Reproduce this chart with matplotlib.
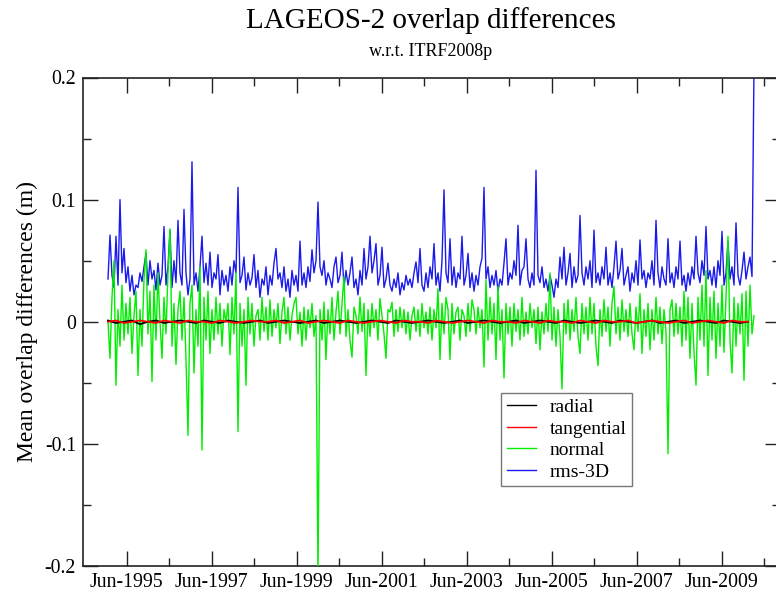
import numpy as np
import matplotlib.pyplot as plt
from matplotlib.ticker import FixedLocator, FuncFormatter

plt.rcParams['font.family'] = ['Liberation Serif', 'DejaVu Serif']

# sampling of the overlap arcs (decimal years)
start_year = 1994.98
step_year = 0.04706

# rms-3D (m)
rms_3d = [
    0.035, 0.071, 0.038, 0.028, 0.070, 0.030, 0.100, 0.040, 0.060, 0.032,
    0.045, 0.025, 0.038, 0.022, 0.030, 0.028, 0.040, 0.033, 0.045, 0.056,
    0.030, 0.050, 0.035, 0.042, 0.026, 0.048, 0.030, 0.038, 0.078, 0.030,
    0.045, 0.075, 0.028, 0.050, 0.032, 0.083, 0.040, 0.030, 0.092, 0.040,
    0.022, 0.035, 0.131, 0.030, 0.040, 0.025, 0.045, 0.070, 0.032, 0.048,
    0.030, 0.057, 0.028, 0.040, 0.035, 0.055, 0.022, 0.042, 0.030, 0.038,
    0.025, 0.045, 0.030, 0.050, 0.040, 0.110, 0.032, 0.038, 0.053, 0.026,
    0.040, 0.030, 0.036, 0.055, 0.028, 0.042, 0.020, 0.035, 0.030, 0.045,
    0.022, 0.038, 0.030, 0.048, 0.060, 0.035, 0.040, 0.028, 0.045, 0.025,
    0.035, 0.020, 0.042, 0.030, 0.038, 0.025, 0.066, 0.030, 0.040, 0.028,
    0.045, 0.033, 0.059, 0.040, 0.050, 0.098, 0.045, 0.038, 0.050, 0.030,
    0.040, 0.035, 0.028, 0.045, 0.053, 0.032, 0.038, 0.057, 0.028, 0.042,
    0.030, 0.040, 0.053, 0.028, 0.035, 0.022, 0.042, 0.030, 0.060, 0.035,
    0.045, 0.070, 0.040, 0.050, 0.064, 0.030, 0.038, 0.061, 0.028, 0.035,
    0.048, 0.030, 0.025, 0.035, 0.028, 0.040, 0.022, 0.032, 0.026, 0.038,
    0.030, 0.035, 0.028, 0.040, 0.049, 0.032, 0.060, 0.030, 0.025, 0.040,
    0.028, 0.045, 0.035, 0.064, 0.030, 0.040, 0.025, 0.050, 0.108, 0.040,
    0.032, 0.068, 0.030, 0.045, 0.028, 0.040, 0.035, 0.070, 0.030, 0.038,
    0.056, 0.028, 0.040, 0.025, 0.038, 0.030, 0.045, 0.052, 0.110, 0.035,
    0.045, 0.028, 0.038, 0.030, 0.042, 0.025, 0.035, 0.030, 0.048, 0.068,
    0.030, 0.040, 0.035, 0.050, 0.038, 0.079, 0.030, 0.042, 0.045, 0.068,
    0.035, 0.028, 0.040, 0.030, 0.124, 0.038, 0.032, 0.045, 0.028, 0.035,
    0.025, 0.038, 0.030, 0.020, 0.035, 0.028, 0.053, 0.035, 0.061, 0.030,
    0.040, 0.056, 0.028, 0.045, 0.032, 0.038, 0.087, 0.040, 0.030, 0.045,
    0.035, 0.050, 0.028, 0.075, 0.032, 0.040, 0.030, 0.045, 0.035, 0.061,
    0.030, 0.040, 0.028, 0.045, 0.066, 0.035, 0.042, 0.060, 0.030, 0.038,
    0.045, 0.025, 0.040, 0.032, 0.050, 0.030, 0.067, 0.035, 0.042, 0.028,
    0.040, 0.035, 0.050, 0.030, 0.083, 0.040, 0.028, 0.045, 0.035, 0.030,
    0.068, 0.032, 0.040, 0.028, 0.045, 0.035, 0.066, 0.030, 0.038, 0.025,
    0.040, 0.030, 0.045, 0.035, 0.070, 0.040, 0.032, 0.050, 0.038, 0.078,
    0.035, 0.042, 0.030, 0.045, 0.028, 0.050, 0.038, 0.074, 0.030, 0.040,
    0.066, 0.035, 0.045, 0.030, 0.081, 0.038, 0.030, 0.042, 0.057, 0.035,
    0.045, 0.053, 0.037, 0.210,
]

# normal component (m)
normal = [
    0.000, -0.030, 0.020, 0.050, -0.052, 0.010, -0.020, 0.030, -0.015, 0.015,
    -0.010, 0.020, -0.026, 0.005, 0.025, -0.044, 0.010, -0.020, 0.035, 0.059,
    -0.010, 0.025, -0.049, 0.030, -0.015, 0.040, 0.000, -0.030, 0.020, -0.010,
    0.040, 0.076, -0.020, 0.015, -0.035, 0.010, 0.025, -0.015, 0.020, -0.030,
    -0.093, 0.015, 0.030, -0.042, 0.010, -0.020, 0.045, -0.105, 0.020, -0.015,
    0.025, -0.026, 0.010, -0.015, 0.020, -0.010, 0.015, -0.020, 0.010, 0.000,
    0.015, -0.027, 0.020, -0.010, 0.040, -0.090, 0.015, -0.020, 0.010, -0.052,
    0.020, -0.010, 0.015, -0.020, 0.005, 0.010, -0.015, 0.020, -0.008, 0.012,
    -0.015, 0.018, -0.012, 0.010, -0.005, 0.015, -0.018, 0.008, 0.020, -0.010,
    0.012, -0.015, 0.005, 0.015, 0.020, -0.010, 0.008, -0.020, 0.012, -0.015,
    0.010, -0.005, 0.015, -0.012, 0.005, -0.210, 0.010, -0.015, 0.016, -0.031,
    0.010, -0.010, 0.020, -0.015, 0.008, 0.025, -0.010, 0.015, 0.037, -0.012,
    0.010, -0.015, -0.029, 0.012, 0.005, -0.010, 0.020, -0.008, 0.015, -0.044,
    0.010, -0.012, 0.015, -0.005, 0.010, -0.015, 0.019, 0.005, -0.010, -0.030,
    0.010, 0.008, 0.016, -0.012, 0.010, -0.008, 0.012, -0.005, 0.010, -0.010,
    0.008, -0.015, 0.005, 0.012, -0.008, 0.010, -0.012, 0.015, -0.005, 0.008,
    -0.010, 0.012, -0.015, 0.010, -0.005, 0.027, -0.031, 0.015, -0.010, 0.020,
    0.010, -0.031, 0.015, -0.010, 0.008, 0.012, -0.015, 0.010, 0.005, -0.012,
    0.015, -0.008, 0.018, 0.010, -0.010, 0.012, -0.005, 0.010, -0.037, 0.034,
    -0.015, 0.020, -0.010, 0.015, -0.031, 0.029, -0.015, 0.010, -0.046, 0.015,
    -0.010, 0.012, -0.020, 0.015, -0.008, 0.010, -0.015, 0.020, -0.012, 0.008,
    -0.010, 0.015, -0.005, 0.010, -0.018, 0.012, -0.023, 0.008, -0.010, 0.015,
    -0.008, 0.040, -0.015, 0.012, -0.020, 0.010, -0.012, -0.055, 0.015, -0.010,
    0.018, -0.015, 0.010, -0.008, 0.020, -0.012, -0.026, 0.015, -0.010, 0.012,
    -0.015, 0.020, -0.010, 0.015, -0.020, -0.036, 0.010, -0.012, 0.018, -0.008,
    0.012, -0.020, 0.015, 0.029, -0.010, 0.012, -0.015, 0.018, -0.008, 0.010,
    -0.012, 0.015, -0.010, -0.023, 0.012, -0.008, 0.023, -0.026, 0.010, -0.012,
    0.015, -0.023, 0.010, -0.015, 0.020, -0.010, 0.012, -0.018, 0.010, -0.008,
    -0.108, 0.010, 0.018, -0.012, 0.015, -0.010, 0.012, -0.020, 0.025, -0.015,
    0.020, -0.030, 0.015, -0.025, -0.052, 0.020, -0.015, 0.030, -0.020, 0.042,
    -0.044, 0.020, -0.015, 0.025, -0.030, 0.015, -0.020, 0.030, -0.025, 0.020,
    0.070, -0.015, -0.042, 0.020, -0.020, 0.015, -0.010, 0.023, -0.048, 0.025,
    -0.020, 0.030, -0.010, 0.005,
]

# radial and tangential (m), every 4th arc
radial = [
    0.001, -0.001, 0.000, 0.001, -0.002, 0.000, 0.001, -0.001, 0.000, 0.001,
    0.000, -0.001, 0.001, 0.000, -0.001, 0.001, 0.000, -0.001, 0.000, 0.001,
    -0.001, 0.000, 0.001, 0.000, -0.001, 0.000, 0.001, -0.001, 0.000, 0.001,
    0.000, -0.001, 0.000, 0.001, 0.000, -0.001, 0.001, 0.000, -0.001, 0.000,
    0.001, 0.000, -0.001, 0.000, 0.001, -0.001, 0.000, 0.001, 0.000, -0.001,
    0.000, 0.001, -0.001, 0.000, 0.001, 0.000, -0.001, 0.001, 0.000, -0.001,
    0.000, 0.001, 0.000, -0.001, 0.001, 0.000, -0.001, 0.000, 0.001, -0.001,
    0.000, 0.001, -0.001, 0.000, 0.001, 0.000, -0.001, 0.001, 0.000, -0.001,
    0.000,
]
tangential = [
    0.000, 0.001, -0.001, 0.000, 0.001, 0.000, -0.001, 0.001, 0.000, -0.001,
    0.001, 0.000, 0.000, -0.001, 0.001, 0.000, -0.001, 0.000, 0.001, 0.000,
    0.000, 0.001, -0.001, 0.000, 0.001, -0.001, 0.000, 0.001, 0.000, -0.001,
    0.001, 0.000, -0.001, 0.000, 0.001, 0.000, -0.001, 0.001, 0.000, 0.000,
    -0.001, 0.001, 0.000, -0.001, 0.000, 0.001, 0.000, -0.001, 0.001, 0.000,
    0.000, -0.001, 0.001, 0.000, -0.001, 0.001, 0.000, 0.000, -0.001, 0.001,
    0.000, -0.001, 0.001, 0.000, 0.000, 0.001, -0.001, 0.000, 0.001, 0.000,
    -0.001, 0.000, 0.001, -0.001, 0.000, 0.001, 0.000, -0.001, 0.001, 0.000,
    0.000,
]

tick_years = [1995, 1997, 1999, 2001, 2003, 2005, 2007, 2009]
tick_labels = ['Jun-%d' % y for y in tick_years]
minor_years = [1996, 1998, 2000, 2002, 2004, 2006, 2008, 2010]
june = 5.0 / 12

dates = start_year + step_year * np.arange(len(rms_3d))
dates_coarse = dates[::4]

fig = plt.figure(figsize=(7.76, 5.91), dpi=100)
# right frame lies just outside the picture, as in the original
ax = fig.add_axes([83 / 776, 25 / 591, 697 / 776, 488.5 / 591])

ax.plot(dates, rms_3d, color='#1a1aee', lw=1.0, label='rms-3D', zorder=2)
ax.plot(dates, normal, color='#00ee00', lw=1.0, label='normal', zorder=3)
ax.plot(dates_coarse, radial, color='black', lw=1.3, label='radial', zorder=4)
ax.plot(dates_coarse, tangential, color='red', lw=1.3, label='tangential', zorder=5)

ax.set_xlim(1994.392, 2010.792)
ax.set_ylim(-0.2, 0.2)

ax.xaxis.set_major_locator(FixedLocator([y + june for y in tick_years]))
ax.xaxis.set_minor_locator(FixedLocator([y + june for y in minor_years]))
ax.set_xticklabels(tick_labels)
ax.yaxis.set_major_locator(FixedLocator([-0.2, -0.1, 0, 0.1, 0.2]))
ax.yaxis.set_minor_locator(FixedLocator([-0.15, -0.05, 0.05, 0.15]))
ax.yaxis.set_major_formatter(FuncFormatter(lambda v, p: '0' if abs(v) < 1e-9 else ('%g' % v)))

ax.tick_params(which='both', direction='in', top=True, right=True, colors='#222222',
               labelsize=14.3, labelcolor='black')
ax.tick_params(which='major', length=11, width=1, pad=5)
ax.tick_params(which='minor', length=5.5, width=1)
for s in ax.spines.values():
    s.set_color('#222222')
    s.set_linewidth(1.2)

ax.set_ylabel('Mean overlap differences (m)', fontsize=17, labelpad=5)

fig.text(431 / 776, 1 - 21 / 591, 'LAGEOS-2 overlap differences', ha='center', va='center', fontsize=21)
fig.text(431 / 776, 1 - 51 / 591, 'w.r.t. ITRF2008p', ha='center', va='center', fontsize=13)

h, l = ax.get_legend_handles_labels()
order = [2, 3, 1, 0]
leg = ax.legend([h[i] for i in order], [l[i] for i in order], loc='upper left',
                bbox_to_anchor=(0.5997, 0.3548), fontsize=14, frameon=True, fancybox=False,
                edgecolor='#555555', labelspacing=0.2, handlelength=1.5, handletextpad=0.7,
                borderpad=0.3, borderaxespad=0)
leg.get_frame().set_linewidth(1.0)
for line in leg.get_lines():
    line.set_linewidth(1.0)

fig.savefig('out.png', dpi=100)
